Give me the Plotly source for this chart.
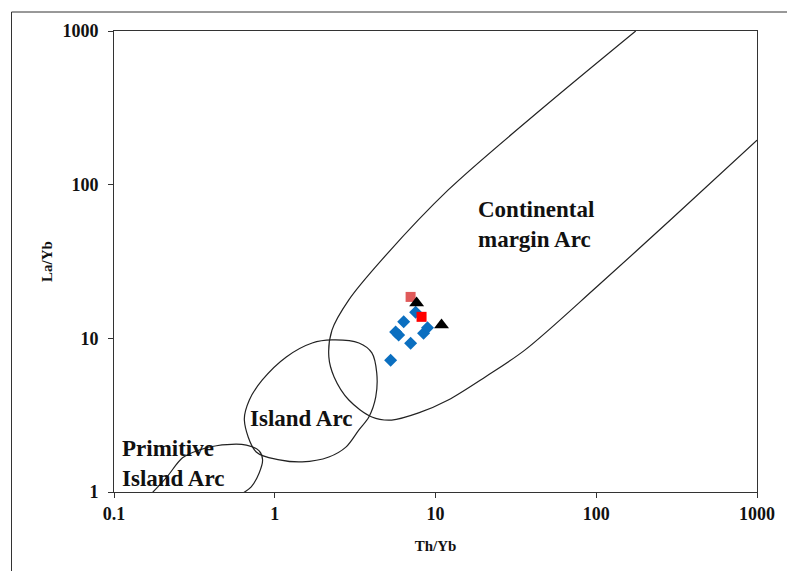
import plotly.graph_objects as go

# ---- sample data (Th/Yb, La/Yb) ----
blue_th = [5.26, 5.65, 5.90, 6.34, 7.00, 7.52, 8.43, 8.92]
blue_la = [7.2, 11.0, 10.5, 12.8, 9.3, 14.8, 10.8, 11.7]

red_th = [7.00, 8.19]
red_la = [18.6, 13.8]
red_colors = ["#e05a5a", "#ff0000"]

tri_th = [7.63, 10.9]
tri_la = [17.0, 12.2]

# ---- field boundaries (Th/Yb, La/Yb) ----
cont_th = [176, 43.4, 12.0, 4.63, 2.89, 2.27, 2.17, 2.34, 2.89,
           4.02, 5.34, 7.85, 12.0, 20.4, 36.1, 102, 289, 1000]
cont_la = [1000, 297, 92.4, 32.4, 17.8, 11.3, 7.57, 5.61, 3.97,
           3.08, 2.94, 3.27, 3.97, 5.61, 8.41, 21.9, 58.9, 195]

isl_th = [0.647, 0.767, 1.07, 1.48, 2.17, 2.77, 3.34, 3.85, 4.25, 4.31, 4.02, 3.34,
          2.27, 1.71, 1.18, 0.837, 0.695, 0.647]
isl_la = [2.94, 1.82, 1.62, 1.57, 1.69, 1.96, 2.54, 3.08, 4.16, 5.96, 8.04, 9.33,
          9.77, 9.33, 7.57, 5.36, 3.97, 2.94]

prim_th = [0.170, 0.213, 0.267, 0.341, 0.434, 0.666, 0.80, 0.84, 0.80, 0.714, 0.62]
prim_la = [0.97, 1.25, 1.67, 1.88, 2.0, 2.02, 1.85, 1.62, 1.33, 1.08, 0.97]

x_ticks = [0.1, 1, 10, 100, 1000]
x_ticktext = ["0.1", "1", "10", "100", "1000"]
y_ticks = [1, 10, 100, 1000]
y_ticktext = ["1", "10", "100", "1000"]

SERIF = "Liberation Serif"
LINE = "#222222"

fig = go.Figure()

for xs, ys in [(cont_th, cont_la), (isl_th, isl_la), (prim_th, prim_la)]:
    fig.add_trace(go.Scatter(x=xs, y=ys, mode="lines",
                             line=dict(color=LINE, width=1.2, shape="spline", smoothing=0.9),
                             hoverinfo="skip", showlegend=False))

fig.add_trace(go.Scatter(x=blue_th, y=blue_la, mode="markers",
                         marker=dict(symbol="diamond", size=10, color="#0b6fc0"),
                         showlegend=False))
fig.add_trace(go.Scatter(x=red_th, y=red_la, mode="markers",
                         marker=dict(symbol="square", size=10, color=red_colors),
                         showlegend=False))
fig.add_trace(go.Scatter(x=tri_th, y=tri_la, mode="markers",
                         marker=dict(symbol="triangle-up", size=13, color="#000000"),
                         showlegend=False))

label_font = dict(family=SERIF, size=23, color="#111111", weight="bold")
fig.add_annotation(x=0.5635, y=0.5813, xref="paper", yref="paper",
                   text="Continental<br>margin Arc", showarrow=False,
                   xanchor="left", yanchor="middle", align="left", font=label_font)
fig.add_annotation(x=0.291, y=0.1605, xref="paper", yref="paper",
                   text="Island Arc", showarrow=False,
                   xanchor="center", yanchor="middle", font=label_font)
fig.add_annotation(x=0.0093, y=0.0618, xref="paper", yref="paper",
                   text="Primitive<br>Island Arc", showarrow=False,
                   xanchor="left", yanchor="middle", align="left", font=label_font)

# outer chart frame
fig.add_shape(type="rect", xref="paper", yref="paper",
              x0=-0.1594, x1=1.2, y0=-0.4, y1=1.0412,
              line=dict(color="#333333", width=1))

tick_font = dict(family=SERIF, size=18, color="#111111", weight="bold")
title_font = dict(family=SERIF, size=15, color="#111111", weight="bold")

fig.update_xaxes(type="log", range=[-1, 3], tickvals=x_ticks, ticktext=x_ticktext,
                 showgrid=False, zeroline=False, showline=True, linecolor="#333333",
                 linewidth=1, mirror=True, ticks="outside", ticklen=5, tickcolor="#333333",
                 tickfont=tick_font, title=dict(text="Th/Yb", font=title_font, standoff=17))
fig.update_yaxes(type="log", range=[0, 3], tickvals=y_ticks, ticktext=y_ticktext,
                 showgrid=False, zeroline=False, showline=True, linecolor="#333333",
                 linewidth=1, mirror=True, ticks="outside", ticklen=5, tickcolor="#333333",
                 ticklabelstandoff=6,
                 tickfont=tick_font, title=dict(text="La/Yb", font=title_font, standoff=6))

fig.update_layout(width=787, height=571, margin=dict(l=114, r=27, t=31, b=79),
                  paper_bgcolor="white", plot_bgcolor="white", showlegend=False)

fig.write_html("out.html")
